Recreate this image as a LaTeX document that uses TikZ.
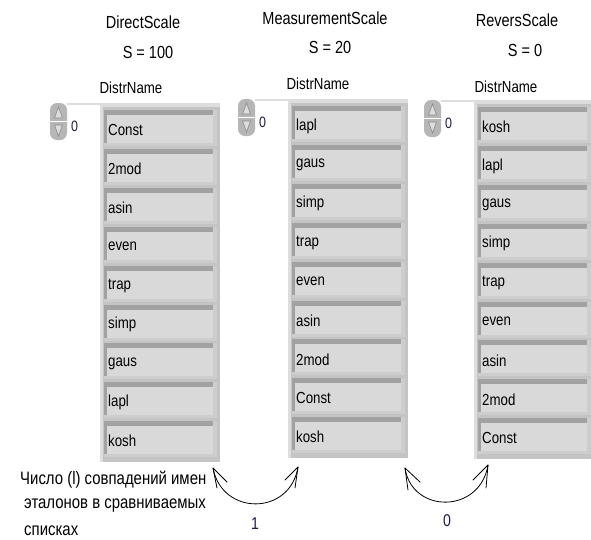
\documentclass[tikz,border=0pt]{standalone}
\usepackage{fontspec}
\setmainfont{Liberation Sans}[FakeStretch=0.83]
\definecolor{panelgray}{HTML}{C4C4C4}
\definecolor{panellight}{HTML}{DDDDDD}
\definecolor{celldark}{HTML}{A2A2A2}
\definecolor{celllight}{HTML}{CDCDCD}
\definecolor{cellfill}{HTML}{D9D9D9}
\definecolor{spingray}{HTML}{B6B6B6}
\definecolor{spinline}{HTML}{8A8A8A}
\definecolor{numcol}{HTML}{1C1C44}
\newcommand\drawpanel[4]{%
  % panel background
  \fill[panelgray] ({100+#1},{103+#2}) rectangle ({220+#1},{462+#2});
  \fill[panellight] ({100+#1},{103+#2}) rectangle ({220+#1},{107+#2});
  \fill[panellight] ({100+#1},{103+#2}) rectangle ({103+#1},{462+#2});
  % spinner
  \fill[spingray, rounded corners=7] ({50+#1},{103+#2}) rectangle ({67+#1},{140+#2});
  \draw[white, line width=1.2] ({50+#1},{121.5+#2}) -- ({67+#1},{121.5+#2});
  \draw[spinline, fill=panellight, line width=0.6] ({58.5+#1},{107+#2}) -- ({54.5+#1},{118+#2}) -- ({62.5+#1},{118+#2}) -- cycle;
  \draw[spinline, fill=panellight, line width=0.6] ({58.5+#1},{136+#2}) -- ({54.5+#1},{125+#2}) -- ({62.5+#1},{125+#2}) -- cycle;
  \draw[panellight, line width=1.5] ({67+#1},{104+#2}) -- ({100+#1},{104+#2});
  \node[spintext] (#3-idx) at ({71+#1},{126+#2}) {0};
  % cells
  \foreach \t [count=\i] in {#4} {
    \pgfmathsetmacro\ty{110+#2+(\i-1)*38.9}
    \fill[celllight] ({104+#1},\ty) rectangle ({217+#1},{\ty+36});
    \fill[celldark] ({104+#1},\ty) rectangle ({213+#1},{\ty+33});
    \fill[cellfill] ({107+#1},{\ty+5}) rectangle ({213+#1},{\ty+33});
    \node[celltext] (#3-\i) at ({107+#1},{\ty+20}) {\t};
  }
}
\begin{document}
\begin{tikzpicture}[x=1pt,y=-1pt,
  celltext/.style={anchor=west, inner sep=1pt, font=\fontsize{16}{18}\selectfont},
  spintext/.style={anchor=west, inner sep=0pt, text=numcol, font=\fontsize{15}{17}\selectfont},
  title/.style={inner sep=0pt, font=\fontsize{17.5}{20}\selectfont},
  subtitle/.style={inner sep=0pt, font=\fontsize{16}{18}\selectfont},
  note/.style={anchor=west, inner sep=0pt, font=\fontsize{18}{20}\selectfont},
  numlabel/.style={inner sep=0pt, text=numcol, font=\fontsize{17}{19}\selectfont},
  curve/.style={line width=0.8pt, black, line cap=round, line join=round}
]
\fill[white] (0,0) rectangle (591,539);
\useasboundingbox (0,0) rectangle (591,539);

\drawpanel{0}{0}{L}{Const,2mod,asin,even,trap,simp,gaus,lapl,kosh}
\drawpanel{188}{-4}{M}{lapl,gaus,simp,trap,even,asin,2mod,Const,kosh}
\drawpanel{374}{-3}{R}{kosh,lapl,gaus,simp,trap,even,asin,2mod,Const}

% titles
\node[title] (tL) at (143,22) {DirectScale};
\node[title] (sL) at (148,52) {S = 100};
\node[subtitle] (dL) at (131,88) {DistrName};
\node[title] (tM) at (325,18) {MeasurementScale};
\node[title] (sM) at (330,47) {S = 20};
\node[subtitle] (dM) at (318,84) {DistrName};
\node[title] (tR) at (517,20) {ReversScale};
\node[title] (sR) at (525,50) {S = 0};
\node[subtitle] (dR) at (506,87) {DistrName};

% note
\node[note] (n1) at (20,480) {Число (l) совпадений имен};
\node[note] (n2) at (24,506) {эталонов в сравниваемых};
\node[note] (n3) at (24,531) {списках};

% arrows (hand-drawn style with open barbs)
\coordinate (a1) at (213,468);
\coordinate (a2) at (298,467);
\coordinate (b1) at (405,468);
\coordinate (b2) at (488,465);
\draw[curve] (a1) .. controls (222,516) and (290,516) .. (a2);
\draw[curve] ([shift={(14,14)}]a1) -- (a1) -- ([shift={(4,20)}]a1);
\draw[curve] ([shift={(-13,13)}]a2) -- (a2) -- ([shift={(-3,21)}]a2);
\draw[curve] (b1) .. controls (412,514) and (480,514) .. (b2);
\draw[curve] ([shift={(15,14)}]b1) -- (b1) -- ([shift={(3,22)}]b1);
\draw[curve] ([shift={(-15,15)}]b2) -- (b2) -- ([shift={(-2,23)}]b2);
\node[numlabel] (l1) at (255,524) {1};
\node[numlabel] (l0) at (447,521) {0};
\end{tikzpicture}
\end{document}
